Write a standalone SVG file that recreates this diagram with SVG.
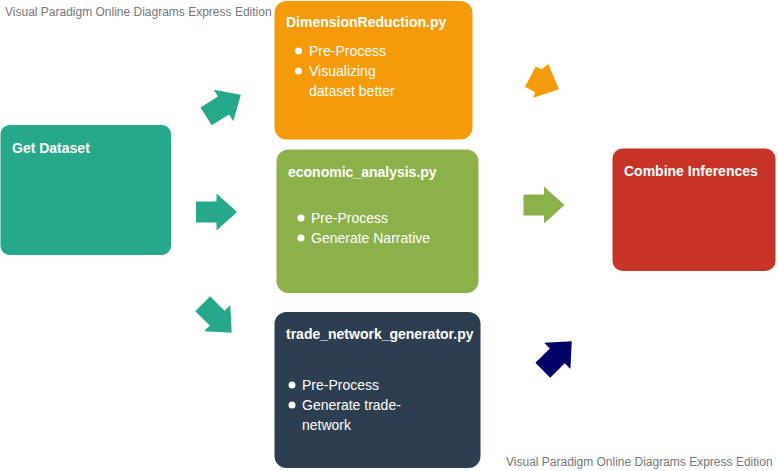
<svg xmlns="http://www.w3.org/2000/svg" width="778" height="471" viewBox="0 0 778 471">
<defs>
<style>
.wm{font-family:"Liberation Sans",Arial,sans-serif;font-size:12px;fill:#777}
.t{font-family:"Liberation Sans",Arial,sans-serif;font-size:14px;font-weight:bold;fill:#fff}
.b{font-family:"Liberation Sans",Arial,sans-serif;font-size:14px;fill:#fff}
.dot{fill:#fff}
</style>
<polygon id="arr" points="-20.5,-10.5 0,-10.5 0,-18.5 20.5,0 0,18.5 0,10.5 -20.5,10.5"/>
</defs>
<rect width="778" height="471" fill="#fff"/>
<text class="wm" x="5" y="16">Visual Paradigm Online Diagrams Express Edition</text>
<text class="wm" x="506" y="466">Visual Paradigm Online Diagrams Express Edition</text>

<g id="get-dataset">
<rect x="0.5" y="125" width="170.5" height="130" rx="9" fill="#26A88A"/>
<text class="t" x="12" y="153">Get Dataset</text>
</g>

<g id="dimension-reduction">
<rect x="274.5" y="1" width="198" height="138.5" rx="12" fill="#F59B0A"/>
<text class="t" x="286" y="27">DimensionReduction.py</text>
<circle class="dot" cx="298.5" cy="51" r="3.5"/>
<text class="b" x="309" y="56">Pre-Process</text>
<circle class="dot" cx="298.5" cy="71" r="3.5"/>
<text class="b" x="309" y="76">Visualizing</text>
<text class="b" x="309" y="96">dataset better</text>
</g>

<g id="economic-analysis">
<rect x="276.5" y="149.5" width="202" height="143.5" rx="12" fill="#8DB14A"/>
<text class="t" x="288" y="177">economic_analysis.py</text>
<circle class="dot" cx="301" cy="218" r="3.5"/>
<text class="b" x="311" y="223">Pre-Process</text>
<circle class="dot" cx="301" cy="238" r="3.5"/>
<text class="b" x="311" y="243">Generate Narrative</text>
</g>

<g id="trade-network-generator">
<rect x="274.5" y="312" width="206" height="156" rx="12" fill="#2C3E50"/>
<text class="t" x="286" y="339">trade_network_generator.py</text>
<circle class="dot" cx="292" cy="385" r="3.5"/>
<text class="b" x="302" y="390">Pre-Process</text>
<circle class="dot" cx="292" cy="405" r="3.5"/>
<text class="b" x="302" y="410">Generate trade-</text>
<text class="b" x="302" y="430">network</text>
</g>

<g id="combine-inferences">
<rect x="612.5" y="148.5" width="163" height="122.5" rx="10" fill="#C73427"/>
<text class="t" x="624" y="176">Combine Inferences</text>
</g>

<g id="connectors">
<use href="#arr" transform="translate(223.5,105.5) rotate(-32)" fill="#26A88A"/>
<use href="#arr" transform="translate(216.5,212)" fill="#26A88A"/>
<use href="#arr" transform="translate(217.2,318.2) rotate(45)" fill="#26A88A"/>
<polygon points="525,86.7 535.7,66.7 541.7,69.3 548.3,64 559,89.3 533.3,97.7 535,92.3" fill="#F59B0A"/>
<use href="#arr" transform="translate(544,205)" fill="#8DB14A"/>
<use href="#arr" transform="translate(557.3,355.8) rotate(-45)" fill="#000066"/>
</g>
</svg>
